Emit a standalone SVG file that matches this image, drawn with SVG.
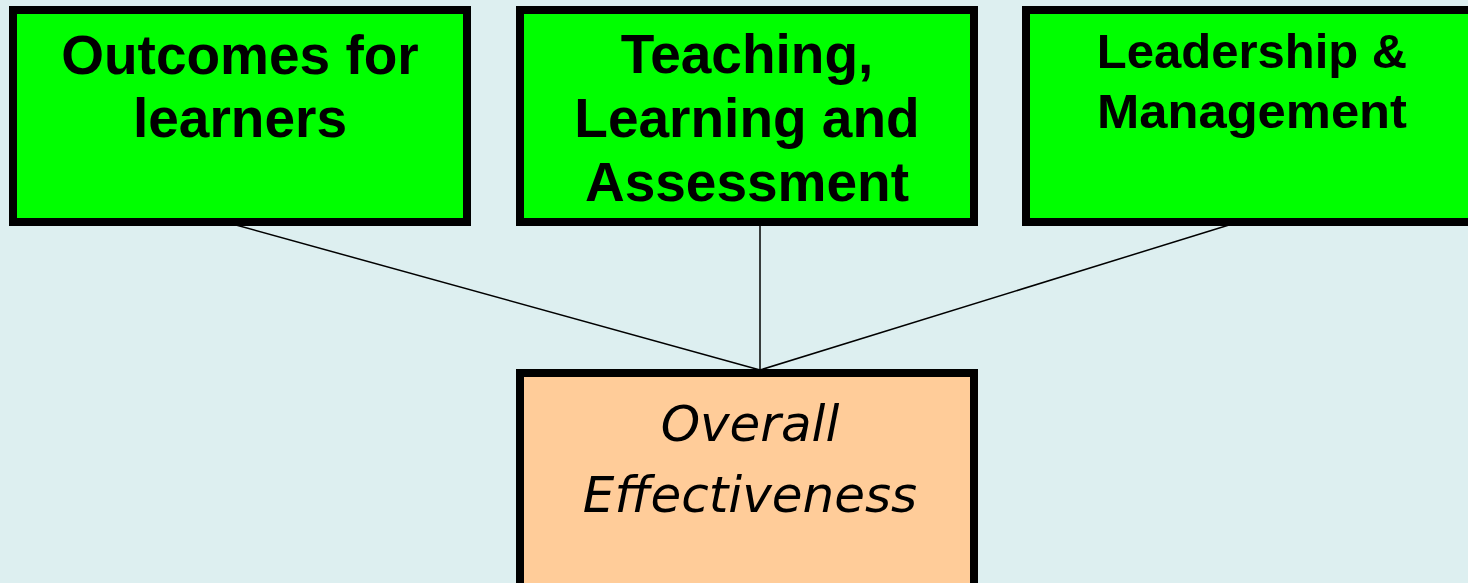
<svg xmlns="http://www.w3.org/2000/svg" width="1468" height="583" viewBox="0 0 1468 583">
<style>
.box{stroke:#000;stroke-width:8}
.g{fill:#00FF00}
.o{fill:#FFCC99}
.t{font-family:"Liberation Sans",Arial,sans-serif;font-weight:bold;fill:#000;text-anchor:middle}
.i{font-family:"DejaVu Sans",Verdana,sans-serif;font-style:italic;fill:#000;text-anchor:middle}
.c{stroke:#000;stroke-width:1.5;fill:none}
</style>
<rect width="1468" height="583" fill="#DDEFF0"/>
<g id="connectors">
<line class="c" x1="236" y1="225" x2="760" y2="370"/>
<line class="c" x1="760" y1="225" x2="760" y2="370"/>
<line class="c" x1="1229" y1="225" x2="760" y2="370"/>
</g>
<g id="outcomes">
<rect class="box g" x="13" y="10" width="454" height="212"/>
<text class="t" font-size="55" x="240" y="74">Outcomes for</text>
<text class="t" font-size="55" x="240" y="137">learners</text>
</g>
<g id="teaching">
<rect class="box g" x="520" y="10" width="454" height="212"/>
<text class="t" font-size="55" x="747" y="73">Teaching,</text>
<text class="t" font-size="55" x="747" y="137">Learning and</text>
<text class="t" font-size="55" x="747" y="201">Assessment</text>
</g>
<g id="leadership">
<rect class="box g" x="1026" y="10" width="454" height="212"/>
<text class="t" font-size="49" x="1252" y="68">Leadership &amp;</text>
<text class="t" font-size="49" x="1252" y="128" textLength="310" lengthAdjust="spacingAndGlyphs">Management</text>
</g>
<g id="overall">
<rect class="box o" x="520" y="373" width="454" height="240"/>
<text class="i" font-size="50" x="750" y="441">Overall</text>
<text class="i" font-size="50" x="750" y="512">Effectiveness</text>
</g>
</svg>
